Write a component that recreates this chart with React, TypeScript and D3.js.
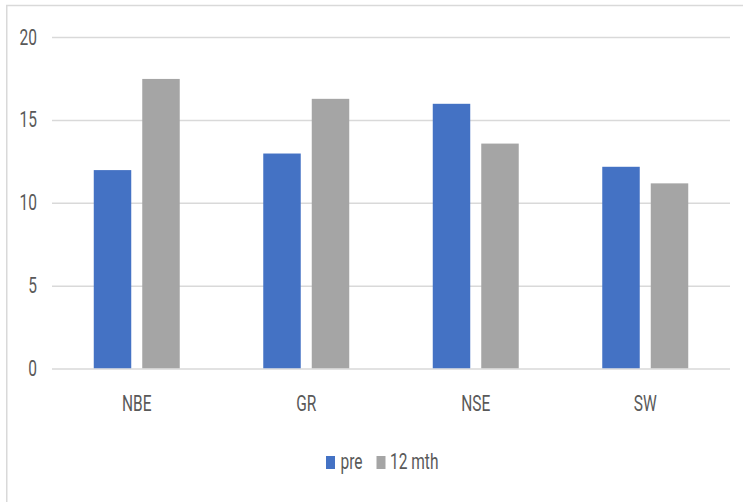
import React from "react";
import * as d3 from "d3";

const categories = ["NBE", "GR", "NSE", "SW"];
const seriesNames = ["pre", "12 mth"];
const preValues = [12, 13, 16, 12.2];
const mthValues = [17.5, 16.3, 13.6, 11.2];
const yTicks = [0, 5, 10, 15, 20];
const colors = ["#4472C4", "#A5A5A5"];

const W = 743;
const H = 502;
const FONT = "'Liberation Sans Narrow', 'Roboto', 'Noto Sans', sans-serif";

export default function App() {
  const x0 = d3.scaleBand<string>().domain(categories).range([52, 730]).padding(0);
  const x1 = d3
    .scaleBand<string>()
    .domain(seriesNames)
    .range([0, x0.bandwidth()])
    .paddingInner(0.227)
    .paddingOuter(0.861);
  const y = d3.scaleLinear().domain([0, 20]).range([369, 37.5]);
  const series = [preValues, mthValues];
  const textStyle = { fontFamily: FONT, fill: "#595959" } as const;
  const sy = 1.42;
  const fs = 15.5;

  return (
    <svg
      width={W}
      height={H}
      style={{ position: "absolute", left: 0, top: 0, background: "#fff" }}
    >
      <rect x={0} y={0} width={W} height={H} fill="#fff" />
      <path d={`M6.75,${H + 5} V5.5 H${W + 5}`} fill="none" stroke="#d9d9d9" strokeWidth={1.5} />
      {yTicks.map((t) => (
        <g key={t}>
          <line x1={52} x2={730} y1={y(t)} y2={y(t)} stroke="#d9d9d9" strokeWidth={1.5} />
          <text
            transform={`translate(37,${y(t) + 7}) scale(1,${sy})`}
            textAnchor="end"
            fontSize={fs}
            style={textStyle}
          >
            {t}
          </text>
        </g>
      ))}
      {categories.map((c, i) => (
        <g key={c}>
          {series.map((vals, s) => (
            <rect
              key={s}
              x={(x0(c) ?? 0) + (x1(seriesNames[s]) ?? 0)}
              width={x1.bandwidth()}
              y={y(vals[i])}
              height={y(0) - y(vals[i]) - 0.75}
              fill={colors[s]}
            />
          ))}
          <text
            transform={`translate(${(x0(c) ?? 0) + x0.bandwidth() / 2},${411}) scale(1,${sy})`}
            textAnchor="middle"
            fontSize={fs}
            style={textStyle}
          >
            {c}
          </text>
        </g>
      ))}
      <g>
        <rect x={326} y={456} width={9} height={13} fill={colors[0]} />
        <text transform={`translate(340.5,469) scale(1,${sy})`} fontSize={fs} style={textStyle}>
          {seriesNames[0]}
        </text>
        <rect x={376.5} y={456} width={9} height={13} fill={colors[1]} />
        <text transform={`translate(390,469) scale(1,${sy})`} fontSize={fs} style={textStyle}>
          {seriesNames[1]}
        </text>
      </g>
    </svg>
  );
}
